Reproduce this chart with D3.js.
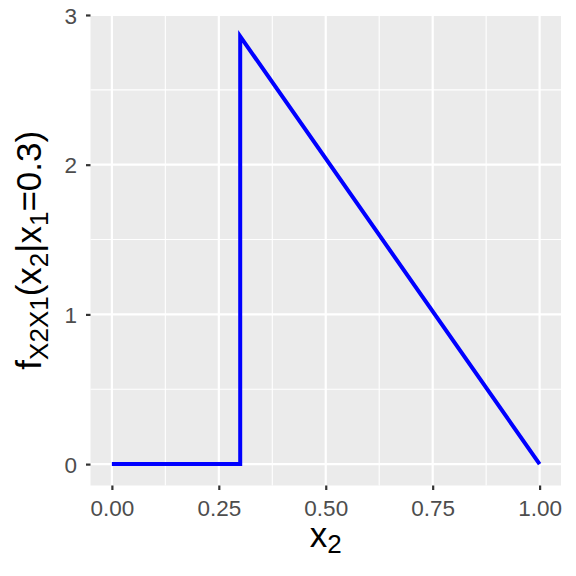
<!DOCTYPE html>
<html>
<head>
<meta charset="utf-8">
<script src="https://cdn.jsdelivr.net/npm/d3@7"></script>
<style>
  html, body { margin: 0; padding: 0; background: #ffffff; }
  svg { display: block; }
</style>
</head>
<body>
<svg id="chart" width="576" height="576"></svg>
<script>
// ---- data ----
const x2Values = [0, 0.3, 0.3, 1.0];
const densityValues = [0, 0, 2.857, 0];
const xTicks = [0, 0.25, 0.5, 0.75, 1.0];
const xTickLabels = ["0.00", "0.25", "0.50", "0.75", "1.00"];
const xMinor = [0.125, 0.375, 0.625, 0.875];
const yTicks = [0, 1, 2, 3];
const yTickLabels = ["0", "1", "2", "3"];
const yMinor = [0.5, 1.5, 2.5];

const W = 576, H = 576;
const panel = { left: 90.5, right: 561, top: 15, bottom: 485.5 };
const font = "'Liberation Sans', Arial, Helvetica, sans-serif";

const svg = d3.select("#chart");

const xDomain = [0 - 0.05, 1 + 0.05];
const yMax = d3.max(densityValues);
const yDomain = [0 - 0.05 * yMax, yMax * 1.05];

const x = d3.scaleLinear().domain(xDomain).range([panel.left, panel.right]);
const y = d3.scaleLinear().domain(yDomain).range([panel.bottom, panel.top]);

// panel background
svg.append("rect")
  .attr("x", panel.left).attr("y", panel.top)
  .attr("width", panel.right - panel.left)
  .attr("height", panel.bottom - panel.top)
  .attr("fill", "#ebebeb");

const grid = svg.append("g");
grid.selectAll(".xminor").data(xMinor).enter().append("line")
  .attr("x1", d => x(d)).attr("x2", d => x(d))
  .attr("y1", panel.top).attr("y2", panel.bottom)
  .attr("stroke", "#ffffff").attr("stroke-width", 1.1);
grid.selectAll(".yminor").data(yMinor).enter().append("line")
  .attr("y1", d => y(d)).attr("y2", d => y(d))
  .attr("x1", panel.left).attr("x2", panel.right)
  .attr("stroke", "#ffffff").attr("stroke-width", 1.1);
grid.selectAll(".xmajor").data(xTicks).enter().append("line")
  .attr("x1", d => x(d)).attr("x2", d => x(d))
  .attr("y1", panel.top).attr("y2", panel.bottom)
  .attr("stroke", "#ffffff").attr("stroke-width", 2.2);
grid.selectAll(".ymajor").data(yTicks).enter().append("line")
  .attr("y1", d => y(d)).attr("y2", d => y(d))
  .attr("x1", panel.left).attr("x2", panel.right)
  .attr("stroke", "#ffffff").attr("stroke-width", 2.2);

// line
const line = d3.line().x((d, i) => x(x2Values[i])).y((d, i) => y(densityValues[i]));
svg.append("path")
  .datum(densityValues)
  .attr("d", line)
  .attr("fill", "none")
  .attr("stroke", "#0000ff")
  .attr("stroke-width", 4)
  .attr("stroke-linejoin", "miter")
  .attr("stroke-linecap", "butt");

// axes
const xAxis = d3.axisBottom(x).tickValues(xTicks)
  .tickFormat((d, i) => xTickLabels[i]).tickSize(4.5).tickPadding(10);
const yAxis = d3.axisLeft(y).tickValues(yTicks)
  .tickFormat((d, i) => yTickLabels[i]).tickSize(4.5).tickPadding(9);

const gx = svg.append("g").attr("transform", `translate(0,${panel.bottom})`).call(xAxis);
const gy = svg.append("g").attr("transform", `translate(${panel.left},0)`).call(yAxis);
[gx, gy].forEach(g => {
  g.select(".domain").remove();
  g.selectAll(".tick line").attr("stroke", "#333333").attr("stroke-width", 2.2);
  g.selectAll(".tick text").attr("fill", "#4d4d4d")
    .style("font-family", font).style("font-size", "22.5px");
});
gx.selectAll(".tick text").attr("dy", "0.0em").attr("y", 10 + 4.5 + 16);
gy.selectAll(".tick text").attr("dy", "0.36em");

// x title
const xt = svg.append("text")
  .attr("x", (panel.left + panel.right) / 2)
  .attr("y", 547)
  .attr("text-anchor", "middle")
  .style("font-family", font).style("font-size", "35px").attr("fill", "#000");
xt.append("tspan").text("x");
xt.append("tspan").attr("dy", 6).style("font-size", "26px").text("2");

// y title
const yt = svg.append("text")
  .attr("transform", `translate(41,${(panel.top + panel.bottom) / 2}) rotate(-90)`)
  .attr("text-anchor", "middle")
  .style("font-family", font).style("font-size", "35px").attr("fill", "#000");
yt.append("tspan").text("f");
yt.append("tspan").attr("dy", 7).style("font-size", "26px").text("X2X1");
yt.append("tspan").attr("dy", -7).text("(x");
yt.append("tspan").attr("dy", 7).style("font-size", "26px").text("2");
yt.append("tspan").attr("dy", -7).text("|x");
yt.append("tspan").attr("dy", 7).style("font-size", "26px").text("1");
yt.append("tspan").attr("dy", -7).text("=0.3)");
</script>
</body>
</html>
